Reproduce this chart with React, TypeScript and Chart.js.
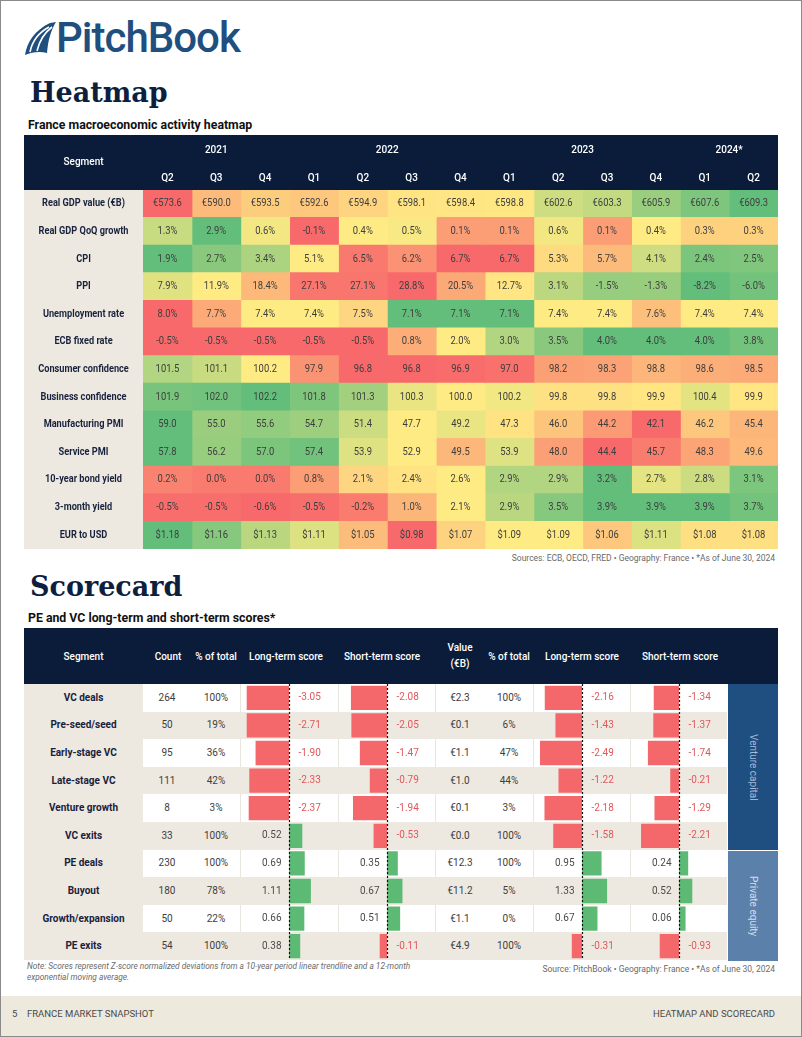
import React, { useEffect, useRef } from 'react';
import { Chart, registerables } from 'chart.js';

Chart.register(...registerables);

const FONT = 'Roboto, "Noto Sans", Arial, sans-serif';
const NAVY = '#0b1c3a';
const TITLE = '#0e1e3e';
const BEIGE = '#eee9e0';
const LABEL = '#18223d';
const CELL_TEXT = '#3e3e3e';
const RED_BAR = '#f4676b';
const GREEN_BAR = '#5dba75';
const NEG_TEXT = '#e0585b';
const POS_TEXT = '#4a4a4a';

// ---------------- Heatmap data ----------------
const years = ['2021', '2022', '2023', '2024*'];
const yearSpans = [3, 4, 4, 2];
const quarters = ['Q2', 'Q3', 'Q4', 'Q1', 'Q2', 'Q3', 'Q4', 'Q1', 'Q2', 'Q3', 'Q4', 'Q1', 'Q2'];
const segments = [
  'Real GDP value (€B)', 'Real GDP QoQ growth', 'CPI', 'PPI', 'Unemployment rate', 'ECB fixed rate',
  'Consumer confidence', 'Business confidence', 'Manufacturing PMI', 'Service PMI',
  '10-year bond yield', '3-month yield', 'EUR to USD',
];
const gdpValue = [573.6, 590.0, 593.5, 592.6, 594.9, 598.1, 598.4, 598.8, 602.6, 603.3, 605.9, 607.6, 609.3];
const gdpGrowth = [1.3, 2.9, 0.6, -0.1, 0.4, 0.5, 0.1, 0.1, 0.6, 0.1, 0.4, 0.3, 0.3];
const cpi = [1.9, 2.7, 3.4, 5.1, 6.5, 6.2, 6.7, 6.7, 5.3, 5.7, 4.1, 2.4, 2.5];
const ppi = [7.9, 11.9, 18.4, 27.1, 27.1, 28.8, 20.5, 12.7, 3.1, -1.5, -1.3, -8.2, -6.0];
const unemployment = [8.0, 7.7, 7.4, 7.4, 7.5, 7.1, 7.1, 7.1, 7.4, 7.4, 7.6, 7.4, 7.4];
const ecbRate = [-0.5, -0.5, -0.5, -0.5, -0.5, 0.8, 2.0, 3.0, 3.5, 4.0, 4.0, 4.0, 3.8];
const consumerConf = [101.5, 101.1, 100.2, 97.9, 96.8, 96.8, 96.9, 97.0, 98.2, 98.3, 98.8, 98.6, 98.5];
const businessConf = [101.9, 102.0, 102.2, 101.8, 101.3, 100.3, 100.0, 100.2, 99.8, 99.8, 99.9, 100.4, 99.9];
const mfgPmi = [59.0, 55.0, 55.6, 54.7, 51.4, 47.7, 49.2, 47.3, 46.0, 44.2, 42.1, 46.2, 45.4];
const servicePmi = [57.8, 56.2, 57.0, 57.4, 53.9, 52.9, 49.5, 53.9, 48.0, 44.4, 45.7, 48.3, 49.6];
const bond10y = [0.2, 0.0, 0.0, 0.8, 2.1, 2.4, 2.6, 2.9, 2.9, 3.2, 2.7, 2.8, 3.1];
const yield3m = [-0.5, -0.5, -0.6, -0.5, -0.2, 1.0, 2.1, 2.9, 3.5, 3.9, 3.9, 3.9, 3.7];
const eurUsd = [1.18, 1.16, 1.13, 1.11, 1.05, 0.98, 1.07, 1.09, 1.09, 1.06, 1.11, 1.08, 1.08];

// ---------------- Scorecard data ----------------
const scoreSegments = [
  'VC deals', 'Pre-seed/seed', 'Early-stage VC', 'Late-stage VC', 'Venture growth',
  'VC exits', 'PE deals', 'Buyout', 'Growth/expansion', 'PE exits',
];
const dealCounts = [264, 50, 95, 111, 8, 33, 230, 180, 50, 54];
const countShares = [100, 19, 36, 42, 3, 100, 100, 78, 22, 100];
const countLongTerm = [-3.05, -2.71, -1.9, -2.33, -2.37, 0.52, 0.69, 1.11, 0.66, 0.38];
const countShortTerm = [-2.08, -2.05, -1.47, -0.79, -1.94, -0.53, 0.35, 0.67, 0.51, -0.11];
const dealValues = [2.3, 0.1, 1.1, 1.0, 0.1, 0.0, 12.3, 11.2, 1.1, 4.9];
const valueShares = [100, 6, 47, 44, 3, 100, 100, 5, 0, 100];
const valueLongTerm = [-2.16, -1.43, -2.49, -1.22, -2.18, -1.58, 0.95, 1.33, 0.67, -0.31];
const valueShortTerm = [-1.34, -1.37, -1.74, -0.21, -1.29, -2.21, 0.24, 0.52, 0.06, -0.93];

// ---------------- Heatmap rows config ----------------
type HeatRow = { values: number[]; prefix: string; suffix: string; digits: number; dir: number; anchors?: number[] };
const heatRows: HeatRow[] = [
  { values: gdpValue, prefix: '€', suffix: '', digits: 1, dir: 1, anchors: [573.6, 599.5, 609.3] },
  { values: gdpGrowth, prefix: '', suffix: '%', digits: 1, dir: 1 },
  { values: cpi, prefix: '', suffix: '%', digits: 1, dir: -1 },
  { values: ppi, prefix: '', suffix: '%', digits: 1, dir: -1 },
  { values: unemployment, prefix: '', suffix: '%', digits: 1, dir: -1 },
  { values: ecbRate, prefix: '', suffix: '%', digits: 1, dir: 1 },
  { values: consumerConf, prefix: '', suffix: '', digits: 1, dir: 1, anchors: [96.8, 100.2, 102.8] },
  { values: businessConf, prefix: '', suffix: '', digits: 1, dir: 1, anchors: [97.5, 100.0, 102.2] },
  { values: mfgPmi, prefix: '', suffix: '', digits: 1, dir: 1 },
  { values: servicePmi, prefix: '', suffix: '', digits: 1, dir: 1 },
  { values: bond10y, prefix: '', suffix: '%', digits: 1, dir: 1, anchors: [-0.4, 2.6, 3.2] },
  { values: yield3m, prefix: '', suffix: '%', digits: 1, dir: 1 },
  { values: eurUsd, prefix: '$', suffix: '', digits: 2, dir: 1 },
];

const C_RED = [248, 105, 107];
const C_YEL = [255, 235, 132];
const C_GRN = [99, 190, 123];

function mix(a: number[], b: number[], t: number) {
  const k = Math.max(0, Math.min(1, t));
  const c = a.map((v, i) => Math.round(v + (b[i] - v) * k));
  return `rgb(${c[0]},${c[1]},${c[2]})`;
}

function cellColor(row: HeatRow, v: number) {
  const sorted = [...row.values].sort((a, b) => a - b);
  let lo = sorted[0];
  let hi = sorted[sorted.length - 1];
  let mid = sorted[Math.floor((sorted.length - 1) / 2)];
  if (row.anchors) [lo, mid, hi] = row.anchors;
  const low = row.dir > 0 ? C_RED : C_GRN;
  const high = row.dir > 0 ? C_GRN : C_RED;
  if (v <= mid) return mix(low, C_YEL, mid === lo ? 1 : (v - lo) / (mid - lo));
  return mix(C_YEL, high, hi === mid ? 1 : (v - mid) / (hi - mid));
}

function fmtCell(row: HeatRow, v: number) {
  return row.prefix + v.toFixed(row.digits) + row.suffix;
}

const HEAT_W = 754;
const HEAT_H = 414;
const HEAD_H = 55;
const SEG_W = 119;

const heatPlugin = {
  id: 'heatDecor',
  beforeDraw(chart: any) {
    const { ctx, chartArea, scales } = chart;
    ctx.save();
    ctx.fillStyle = NAVY;
    ctx.fillRect(0, 0, chart.width, chartArea.top);
    ctx.fillStyle = BEIGE;
    ctx.fillRect(0, chartArea.top, chartArea.left, chartArea.bottom - chartArea.top);
    ctx.fillStyle = '#ffffff';
    ctx.font = `500 10px ${FONT}`;
    ctx.textAlign = 'center';
    ctx.textBaseline = 'middle';
    ctx.fillText('Segment', chartArea.left / 2, 27);
    let start = 0;
    years.forEach((yr, k) => {
      ctx.fillText(yr, scales.x.getPixelForValue(start + yearSpans[k] / 2), 15);
      start += yearSpans[k];
    });
    quarters.forEach((q, c) => ctx.fillText(q, scales.x.getPixelForValue(c + 0.5), 43));
    ctx.fillStyle = LABEL;
    ctx.font = `bold 10px ${FONT}`;
    segments.forEach((s, i) => {
      const w = ctx.measureText(s).width;
      ctx.fillText(s, chartArea.left / 2, scales.y.getPixelForValue(i), w * 0.92);
    });
    ctx.restore();
  },
  afterDatasetsDraw(chart: any) {
    const { ctx } = chart;
    ctx.save();
    ctx.fillStyle = CELL_TEXT;
    ctx.font = `10px ${FONT}`;
    ctx.textAlign = 'center';
    ctx.textBaseline = 'middle';
    chart.data.datasets.forEach((_: any, c: number) => {
      const meta = chart.getDatasetMeta(c);
      meta.data.forEach((el: any, i: number) => {
        const row = heatRows[i];
        const txt = fmtCell(row, row.values[c]);
        const w = ctx.measureText(txt).width;
        ctx.fillText(txt, (el.x + el.base) / 2, el.y, w * 0.94);
      });
    });
    ctx.restore();
  },
};

function Heatmap() {
  const ref = useRef<HTMLCanvasElement>(null);
  useEffect(() => {
    const datasets = quarters.map((q, c) => ({
      label: q,
      data: heatRows.map(() => [c, c + 1]),
      backgroundColor: heatRows.map((r) => cellColor(r, r.values[c])),
      borderWidth: 0,
      grouped: false,
      barPercentage: 1,
      categoryPercentage: 1,
      inflateAmount: 0.5,
    }));
    const chart = new Chart(ref.current as HTMLCanvasElement, {
      type: 'bar',
      data: { labels: segments, datasets: datasets as any },
      options: {
        indexAxis: 'y',
        animation: false,
        responsive: false,
        devicePixelRatio: 1,
        events: [],
        layout: { padding: { left: SEG_W, top: HEAD_H, right: 0, bottom: 0 } },
        scales: {
          x: { type: 'linear', min: 0, max: quarters.length, display: false },
          y: { type: 'category', display: false },
        },
        plugins: { legend: { display: false }, tooltip: { enabled: false } },
      } as any,
      plugins: [heatPlugin],
    });
    return () => chart.destroy();
  }, []);
  return (
    <canvas
      ref={ref}
      width={HEAT_W}
      height={HEAT_H}
      style={{ position: 'absolute', left: 24, top: 135, width: HEAT_W, height: HEAT_H }}
    />
  );
}

// ---------------- Scorecard bars ----------------
const ROW0 = 684;
const RH = 27.6;
const SCORE_W = 97;
const SCORE_H = RH * 10;
const BAR_OFFSET = 0.39; // data-bar minimum length, in score units
const PX_PER_UNIT = 14.6;
const CLIP_PAD = 6.7;
const ZERO_AT = 49;

function makeScorePlugin(values: number[]) {
  return {
    id: 'scoreDecor',
    afterDatasetsDraw(chart: any) {
      const { ctx, scales } = chart;
      const x0 = Math.round(scales.x.getPixelForValue(0)) + 0.5;
      ctx.save();
      ctx.strokeStyle = '#111';
      ctx.lineWidth = 1.2;
      ctx.setLineDash([2, 2]);
      ctx.beginPath();
      ctx.moveTo(x0, 0);
      ctx.lineTo(x0, chart.height);
      ctx.stroke();
      ctx.setLineDash([]);
      ctx.font = `10px ${FONT}`;
      ctx.textBaseline = 'middle';
      values.forEach((v, i) => {
        const yy = scales.y.getPixelForValue(i);
        if (v < 0) {
          ctx.fillStyle = NEG_TEXT;
          ctx.textAlign = 'left';
          ctx.fillText(v.toFixed(2), x0 + 9, yy);
        } else {
          ctx.fillStyle = POS_TEXT;
          ctx.textAlign = 'right';
          ctx.fillText(v.toFixed(2), x0 - 8, yy);
        }
      });
      ctx.restore();
    },
  };
}

function ScoreChart({ values, left }: { values: number[]; left: number }) {
  const ref = useRef<HTMLCanvasElement>(null);
  useEffect(() => {
    const areaW = SCORE_W - 2 * CLIP_PAD;
    const zero = ZERO_AT - CLIP_PAD;
    const chart = new Chart(ref.current as HTMLCanvasElement, {
      type: 'bar',
      data: {
        labels: scoreSegments,
        datasets: [
          {
            data: values.map((v) => v + Math.sign(v) * BAR_OFFSET),
            backgroundColor: values.map((v) => (v < 0 ? RED_BAR : GREEN_BAR)),
            borderWidth: 0,
            barPercentage: 0.88,
            categoryPercentage: 1,
            clip: 0,
          },
        ],
      },
      options: {
        indexAxis: 'y',
        animation: false,
        responsive: false,
        devicePixelRatio: 1,
        events: [],
        layout: { padding: { left: CLIP_PAD, right: CLIP_PAD, top: 0, bottom: 0 } },
        scales: {
          x: { type: 'linear', min: -zero / PX_PER_UNIT, max: (areaW - zero) / PX_PER_UNIT, display: false },
          y: { type: 'category', display: false },
        },
        plugins: { legend: { display: false }, tooltip: { enabled: false } },
      } as any,
      plugins: [makeScorePlugin(values)],
    });
    return () => chart.destroy();
  }, [values]);
  return (
    <canvas
      ref={ref}
      width={SCORE_W}
      height={Math.round(SCORE_H)}
      style={{ position: 'absolute', left, top: ROW0, width: SCORE_W, height: Math.round(SCORE_H) }}
    />
  );
}

// ---------------- HTML helpers ----------------
function Txt({ cx, cy, w = 200, h = 20, align = 'center', style, children }: any) {
  const left = align === 'center' ? cx - w / 2 : align === 'right' ? cx - w : cx;
  return (
    <div
      style={{
        position: 'absolute',
        left,
        top: cy - h / 2,
        width: w,
        height: h,
        lineHeight: `${h}px`,
        textAlign: align,
        whiteSpace: 'nowrap',
        ...style,
      }}
    >
      {children}
    </div>
  );
}

const headStyle = { color: '#ffffff', fontSize: 10, fontWeight: 500 };
const cellStyle = { color: CELL_TEXT, fontSize: 10 };

function Logo() {
  return (
    <>
      <svg style={{ position: 'absolute', left: 22, top: 20 }} width="36" height="38" viewBox="0 0 36 38">
        <path d="M3 35 C5 22 13 10 28 3 L34 2 C29 10 26 20 25 33 C18 31 10 32 3 35 Z" fill="#1f4f7f" />
        <path d="M8 32 C10 22 16 13 27 7" stroke="#fff" strokeWidth="1.6" fill="none" />
        <path d="M15 31 C17 22 21 14 30 7" stroke="#fff" strokeWidth="1.6" fill="none" />
      </svg>
      <div
        style={{
          position: 'absolute',
          left: 56,
          top: 17,
          fontFamily: FONT,
          fontWeight: 500,
          fontSize: 42,
          lineHeight: '42px',
          letterSpacing: -1,
          color: '#1f4f7f',
        }}
      >
        PitchBook
      </div>
    </>
  );
}

export default function App() {
  const groupLefts = [143, 240, 338, 435, 533, 630];
  return (
    <div
      style={{
        position: 'absolute',
        left: 0,
        top: 0,
        width: 802,
        height: 1037,
        background: '#ffffff',
        overflow: 'hidden',
        fontFamily: FONT,
      }}
    >
      <Logo />
      <div
        style={{
          position: 'absolute',
          left: 30,
          top: 79,
          fontFamily: '"DejaVu Serif", serif',
          fontWeight: 'bold',
          fontSize: 27,
          lineHeight: '27px',
          color: TITLE,
        }}
      >
        Heatmap
      </div>
      <Txt cx={28} cy={125} w={400} h={16} align="left" style={{ fontWeight: 700, fontSize: 12.3, color: '#111' }}>
        France macroeconomic activity heatmap
      </Txt>

      <Heatmap />

      <Txt cx={775} cy={558} w={400} h={12} align="right" style={{ fontSize: 8.5, color: '#6a6a6a' }}>
        Sources: ECB, OECD, FRED • Geography: France • *As of June 30, 2024
      </Txt>

      <div
        style={{
          position: 'absolute',
          left: 30,
          top: 573,
          fontFamily: '"DejaVu Serif", serif',
          fontWeight: 'bold',
          fontSize: 27,
          lineHeight: '27px',
          color: TITLE,
        }}
      >
        Scorecard
      </div>
      <Txt cx={28} cy={618} w={400} h={16} align="left" style={{ fontWeight: 700, fontSize: 12.3, color: '#111' }}>
        PE and VC long-term and short-term scores*
      </Txt>

      {/* Scorecard header */}
      <div style={{ position: 'absolute', left: 24, top: 628, width: 754, height: 56, background: NAVY }} />
      <Txt cx={83.5} cy={657} style={headStyle}>Segment</Txt>
      <Txt cx={168} cy={657} style={headStyle}>Count</Txt>
      <Txt cx={216} cy={657} style={headStyle}>% of total</Txt>
      <Txt cx={286} cy={657} style={headStyle}>Long-term score</Txt>
      <Txt cx={382} cy={657} style={headStyle}>Short-term score</Txt>
      <Txt cx={460} cy={648} h={14} style={headStyle}>Value</Txt>
      <Txt cx={460} cy={664} h={14} style={headStyle}>(€B)</Txt>
      <Txt cx={509} cy={657} style={headStyle}>% of total</Txt>
      <Txt cx={582} cy={657} style={headStyle}>Long-term score</Txt>
      <Txt cx={680} cy={657} style={headStyle}>Short-term score</Txt>

      {/* Scorecard rows */}
      {scoreSegments.map((s, i) => {
        const top = ROW0 + i * RH;
        const cy = top + RH / 2;
        const white = i % 2 === 0;
        return (
          <React.Fragment key={s}>
            <div
              style={{ position: 'absolute', left: 143, top, width: 584, height: RH, background: white ? '#ffffff' : BEIGE }}
            />
            <div style={{ position: 'absolute', left: 24, top, width: 119, height: RH, background: BEIGE }} />
            {white &&
              groupLefts.slice(1).map((gx) => (
                <div
                  key={gx}
                  style={{ position: 'absolute', left: gx, top, width: 1, height: RH, background: '#e9e6e0' }}
                />
              ))}
            <Txt cx={83.5} cy={cy} style={{ color: LABEL, fontSize: 10, fontWeight: 700 }}>{s}</Txt>
            <Txt cx={167} cy={cy} w={48} style={cellStyle}>{dealCounts[i]}</Txt>
            <Txt cx={216} cy={cy} w={48} style={cellStyle}>{countShares[i]}%</Txt>
            <Txt cx={460} cy={cy} w={48} style={cellStyle}>€{dealValues[i].toFixed(1)}</Txt>
            <Txt cx={509} cy={cy} w={48} style={cellStyle}>{valueShares[i]}%</Txt>
          </React.Fragment>
        );
      })}

      <ScoreChart values={countLongTerm} left={240} />
      <ScoreChart values={countShortTerm} left={338} />
      <ScoreChart values={valueLongTerm} left={533} />
      <ScoreChart values={valueShortTerm} left={630} />

      {/* Group bands */}
      <div
        style={{
          position: 'absolute',
          left: 728,
          top: 684,
          width: 50,
          height: 166,
          background: '#1f4e80',
          display: 'flex',
          alignItems: 'center',
          justifyContent: 'center',
        }}
      >
        <span style={{ writingMode: 'vertical-rl', color: '#a3bbd9', fontSize: 10 }}>Venture capital</span>
      </div>
      <div
        style={{
          position: 'absolute',
          left: 728,
          top: 851,
          width: 50,
          height: 110,
          background: '#5b80a9',
          display: 'flex',
          alignItems: 'center',
          justifyContent: 'center',
        }}
      >
        <span style={{ writingMode: 'vertical-rl', color: '#d3deeb', fontSize: 10 }}>Private equity</span>
      </div>

      {/* Notes */}
      <div
        style={{
          position: 'absolute',
          left: 27,
          top: 961,
          width: 440,
          fontSize: 8.3,
          lineHeight: '11px',
          fontStyle: 'italic',
          color: '#6a6a6a',
          whiteSpace: 'nowrap',
        }}
      >
        Note: Scores represent Z-score normalized deviations from a 10-year period linear trendline and a 12-month
        <br />
        exponential moving average.
      </div>
      <Txt cx={775} cy={969} w={400} h={12} align="right" style={{ fontSize: 8.5, color: '#6a6a6a' }}>
        Source: PitchBook • Geography: France • *As of June 30, 2024
      </Txt>

      {/* Footer */}
      <div style={{ position: 'absolute', left: 0, top: 996, width: 802, height: 41, background: '#ede9dd' }} />
      <Txt cx={12} cy={1014} w={20} h={14} align="left" style={{ fontSize: 9.5, color: '#4a4a4a' }}>5</Txt>
      <Txt cx={27} cy={1014} w={300} h={14} align="left" style={{ fontSize: 9.5, color: '#4a4a4a' }}>
        FRANCE MARKET SNAPSHOT
      </Txt>
      <Txt cx={775} cy={1014} w={300} h={14} align="right" style={{ fontSize: 9.5, color: '#4a4a4a' }}>
        HEATMAP AND SCORECARD
      </Txt>

      <div
        style={{
          position: 'absolute',
          left: 0,
          top: 0,
          width: 802,
          height: 1037,
          boxSizing: 'border-box',
          border: '1px solid #8a8a8a',
          pointerEvents: 'none',
        }}
      />
    </div>
  );
}
